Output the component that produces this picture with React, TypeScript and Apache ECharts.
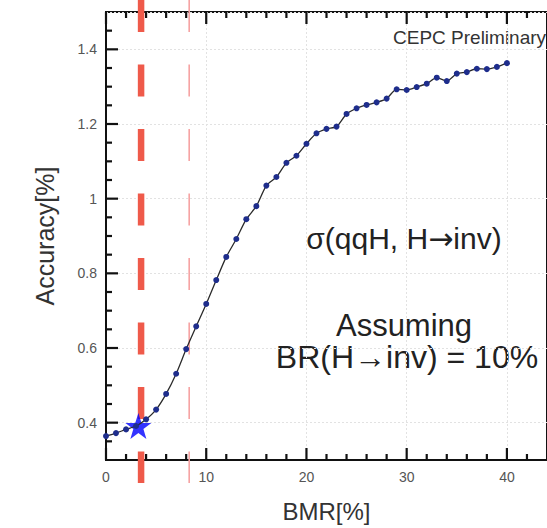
import React, { useEffect, useRef } from "react";
import * as echarts from "echarts";

// ---- data ----
const bmr = [0, 1, 2, 3, 4, 5, 6, 7, 8, 9, 10, 11, 12, 13, 14, 15, 16, 17, 18, 19, 20,
  21, 22, 23, 24, 25, 26, 27, 28, 29, 30, 31, 32, 33, 34, 35, 36, 37, 38, 39, 40];
const accuracy = [0.364, 0.372, 0.382, 0.391, 0.409, 0.435, 0.477, 0.531, 0.597, 0.658, 0.718,
  0.782, 0.844, 0.892, 0.945, 0.98, 1.035, 1.058, 1.096, 1.115, 1.147,
  1.175, 1.187, 1.193, 1.227, 1.242, 1.251, 1.258, 1.268, 1.293, 1.291,
  1.299, 1.308, 1.324, 1.315, 1.335, 1.339, 1.348, 1.347, 1.353, 1.363];
const starPoint = [3.23, 0.391];
const cutLines = [3.5, 8.3];
const xMajorTicks = [0, 10, 20, 30, 40];
const xMinorTicks = [2, 4, 6, 8, 12, 14, 16, 18, 22, 24, 26, 28, 32, 34, 36, 38, 42];
const yMajorTicks = [0.4, 0.6, 0.8, 1, 1.2, 1.4];
const yMinorTicks = [0.35, 0.45, 0.5, 0.55, 0.65, 0.7, 0.75, 0.85, 0.9, 0.95, 1.05, 1.1, 1.15, 1.25, 1.3, 1.35, 1.45];
const xRange = [0, 44];
const yRange = [0.3, 1.5];

const FONT = "'Liberation Sans', Arial, Helvetica, sans-serif";
const STAR =
  "path://M50,0 L61.8,35.4 L99,35.4 L69,57.3 L80.2,92.7 L50,70.8 L19.8,92.7 L31,57.3 L1,35.4 L38.2,35.4 Z";

// rows for the one custom series that draws cut lines and tick marks
const b0 = cutLines.length;
const b1 = b0 + xMajorTicks.length;
const b2 = b1 + xMinorTicks.length;
const b3 = b2 + yMajorTicks.length;
const overlayRows = [
  ...cutLines.map((v) => [v, yRange[0]]),
  ...xMajorTicks.map((v) => [v, yRange[0]]),
  ...xMinorTicks.map((v) => [v, yRange[0]]),
  ...yMajorTicks.map((v) => [xRange[0], v]),
  ...yMinorTicks.map((v) => [xRange[0], v]),
];

export default function App() {
  const ref = useRef<HTMLDivElement>(null);
  useEffect(() => {
    if (!ref.current) return;
    const chart = echarts.init(ref.current, null, { renderer: "svg" });
    const splitLine = { show: true, lineStyle: { color: "#e2e2e2", width: 1, type: [2, 2] } };
    const option: any = {
      animation: false,
      grid: {
        left: 106,
        top: 12,
        width: 453,
        height: 449,
        show: true,
        borderColor: "#111",
        borderWidth: 2,
        backgroundColor: "transparent",
      },
      xAxis: {
        type: "value",
        min: xRange[0],
        max: xRange[1],
        axisLine: { show: true, lineStyle: { color: "#111", width: 2 } },
        axisTick: { show: false },
        axisLabel: { show: true, customValues: xMajorTicks, color: "#555", fontSize: 14, fontFamily: FONT, margin: 10 },
        splitLine,
        name: "BMR[%]",
        nameLocation: "middle",
        nameGap: 39,
        nameTextStyle: { color: "#333", fontSize: 24, fontFamily: FONT },
      },
      yAxis: {
        type: "value",
        min: yRange[0],
        max: yRange[1],
        axisLine: { show: true, lineStyle: { color: "#111", width: 2 } },
        axisTick: { show: false },
        axisLabel: { show: true, customValues: yMajorTicks, color: "#555", fontSize: 14, fontFamily: FONT, margin: 9 },
        splitLine,
        name: "Accuracy[%]",
        nameLocation: "middle",
        nameGap: 49,
        nameTextStyle: { color: "#333", fontSize: 25, fontFamily: FONT },
      },
      series: [
        {
          type: "custom",
          clip: false,
          data: overlayRows,
          renderItem: (params: any, api: any) => {
            const i = params.dataIndex;
            const cs = params.coordSys;
            const p = api.coord([api.value(0), api.value(1)]);
            if (i < b0) {
              const thick = i === 0;
              return {
                type: "line",
                shape: { x1: p[0], y1: cs.y - 12, x2: p[0], y2: cs.y + cs.height + 23 },
                style: {
                  stroke: thick ? "#ef5a4a" : "#f6a3a3",
                  lineWidth: thick ? 6.5 : 1.6,
                  lineDash: [32, 32.5],
                },
              };
            }
            if (i < b2) {
              const len = i < b1 ? 12 : 6;
              const b = cs.y + cs.height;
              return {
                type: "group",
                children: [
                  { type: "line", shape: { x1: p[0], y1: b, x2: p[0], y2: b - len }, style: { stroke: "#111", lineWidth: 2.2 } },
                  { type: "line", shape: { x1: p[0], y1: cs.y, x2: p[0], y2: cs.y + len }, style: { stroke: "#111", lineWidth: 2.2 } },
                ],
              };
            }
            const len = i < b3 ? 12 : 6;
            return {
              type: "line",
              shape: { x1: cs.x, y1: p[1], x2: cs.x + len, y2: p[1] },
              style: { stroke: "#111", lineWidth: 2.2 },
            };
          },
        },
        {
          type: "line",
          data: bmr.map((x, i) => [x, accuracy[i]]),
          smooth: 0.25,
          symbol: "circle",
          symbolSize: 6,
          lineStyle: { color: "#2b2b2b", width: 1.3 },
          itemStyle: { color: "#1e2d8c" },
        },
        {
          type: "scatter",
          data: [starPoint],
          symbol: STAR,
          symbolSize: 26,
          itemStyle: { color: "#0000ff" },
        },
      ],
      graphic: [
        {
          type: "text",
          left: 393,
          top: 28,
          style: { text: "CEPC Preliminary", fill: "#333", font: `19px ${FONT}` },
        },
        {
          type: "text",
          x: 404,
          y: 238,
          style: {
            text: "σ(qqH, H{a|→}inv)",
            fill: "#222",
            font: `30px ${FONT}`,
            align: "center",
            verticalAlign: "middle",
            rich: { a: { fontFamily: "'DejaVu Sans'", fontSize: 30, fill: "#222" } },
          },
        },
        {
          type: "text",
          x: 404,
          y: 325,
          style: { text: "Assuming", fill: "#222", font: `31px ${FONT}`, align: "center", verticalAlign: "middle" },
        },
        {
          type: "text",
          x: 407,
          y: 357,
          style: { text: "BR(H→inv) = 10%", fill: "#222", font: `32px ${FONT}`, align: "center", verticalAlign: "middle" },
        },
      ],
    };
    chart.setOption(option);
    return () => chart.dispose();
  }, []);
  return (
    <div
      ref={ref}
      style={{ position: "fixed", left: 0, top: 0, width: 547, height: 528, overflow: "hidden", background: "#fff" }}
    />
  );
}
